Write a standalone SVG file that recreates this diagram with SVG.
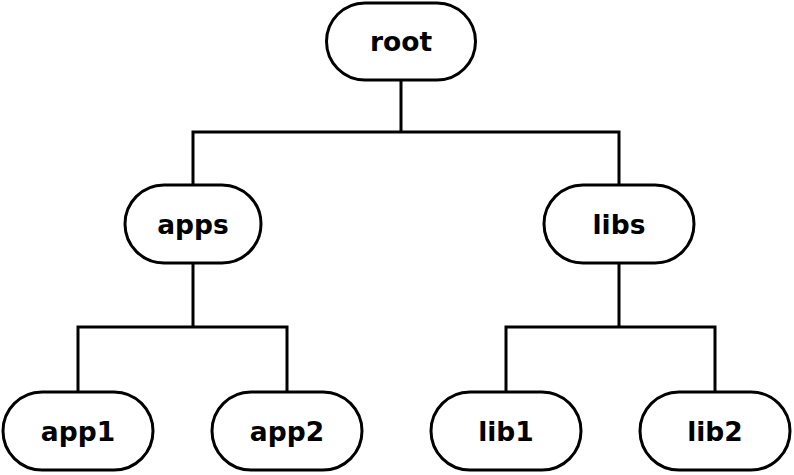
<svg xmlns="http://www.w3.org/2000/svg" width="794" height="475" viewBox="0 0 794 475">
<style>
.n{fill:#fff;stroke:#000;stroke-width:3}
.t{font-family:"DejaVu Sans",sans-serif;font-weight:bold;font-size:26.5px;text-anchor:middle;fill:#000}
.c{fill:none;stroke:#000;stroke-width:3;stroke-linejoin:miter}
</style>
<rect width="794" height="475" fill="#fff"/>
<g id="connectors">
<path class="c" d="M401,80 V132 M193,185 V132 H619 V185"/>
<path class="c" d="M193,263 V327 M78,392 V327 H287 V392"/>
<path class="c" d="M619,263 V327 M506,392 V327 H715 V392"/>
</g>
<g id="root"><rect class="n" x="326.5" y="3" width="149" height="77" rx="38.5"/><text class="t" x="401" y="51">root</text></g>
<g id="apps"><rect class="n" x="125" y="185" width="136" height="78" rx="39"/><text class="t" x="193" y="233.5">apps</text></g>
<g id="libs"><rect class="n" x="544" y="185" width="150" height="78" rx="39"/><text class="t" x="619" y="233.5">libs</text></g>
<g id="app1"><rect class="n" x="3" y="392" width="150" height="78" rx="39"/><text class="t" x="78" y="440.5">app1</text></g>
<g id="app2"><rect class="n" x="212" y="392" width="150" height="78" rx="39"/><text class="t" x="287" y="440.5">app2</text></g>
<g id="lib1"><rect class="n" x="431" y="392" width="150" height="78" rx="39"/><text class="t" x="506" y="440.5">lib1</text></g>
<g id="lib2"><rect class="n" x="640" y="392" width="150" height="78" rx="39"/><text class="t" x="715" y="440.5">lib2</text></g>
</svg>
